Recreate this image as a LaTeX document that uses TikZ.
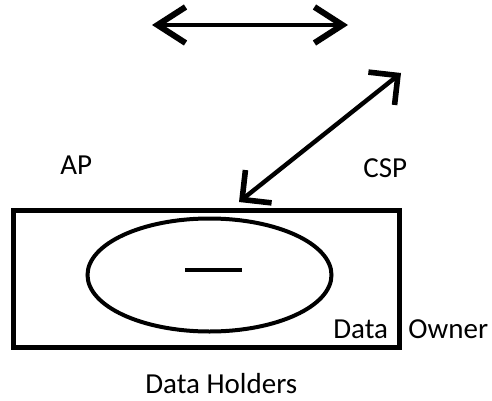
\documentclass[tikz,border=0pt]{standalone}
\usepackage{fontspec}
\setmainfont{Carlito}
\usetikzlibrary{arrows.meta,shapes.geometric}

\begin{document}
\begin{tikzpicture}[x=0.5pt,y=-0.5pt,
  box/.style={rectangle,draw,line width=2.5pt,minimum width=193pt,
              minimum height=68.5pt,inner sep=0pt},
  blob/.style={ellipse,draw,line width=2pt,minimum width=122pt,
               minimum height=56.5pt,inner sep=0pt},
  lbl/.style={font=\fontsize{14.5}{17}\selectfont,inner sep=0pt,anchor=base west},
  link/.style={line width=2.2pt},
  flat/.style={{Straight Barb[length=14pt,width=18pt,line width=3pt]}-{Straight Barb[length=14pt,width=18pt,line width=3pt]}},
  slant/.style={{Straight Barb[length=10.5pt,width=21pt,line width=2.8pt]}-{Straight Barb[length=10.5pt,width=21pt,line width=2.8pt]}}]
  \useasboundingbox (0,0) rectangle (492,401);
  \node (owner) [box] at (206,278.5) {};
  \node (holder) [blob] at (209.5,275) {};
  \draw[link] ([xshift=-12.25pt,yshift=2.5pt]holder.center) -- ++(57,0);
  \coordinate (west) at (152,25);
  \coordinate (east) at (348,25);
  \coordinate (cloud) at (401,73);
  \coordinate (drop) at (239,202);
  \draw[link,flat] (west) -- (east);
  \draw[link,slant] (drop) -- (cloud);
  \foreach \n/\x/\y/\txt in {
    ap/60/174/AP,
    csp/363/177/CSP,
    data/333/338/Data,
    own/408/338/Owner,
    holders/145/393/Data Holders}{
    \node (\n) [lbl] at (\x,\y) {\txt};
  }
\end{tikzpicture}
\end{document}
